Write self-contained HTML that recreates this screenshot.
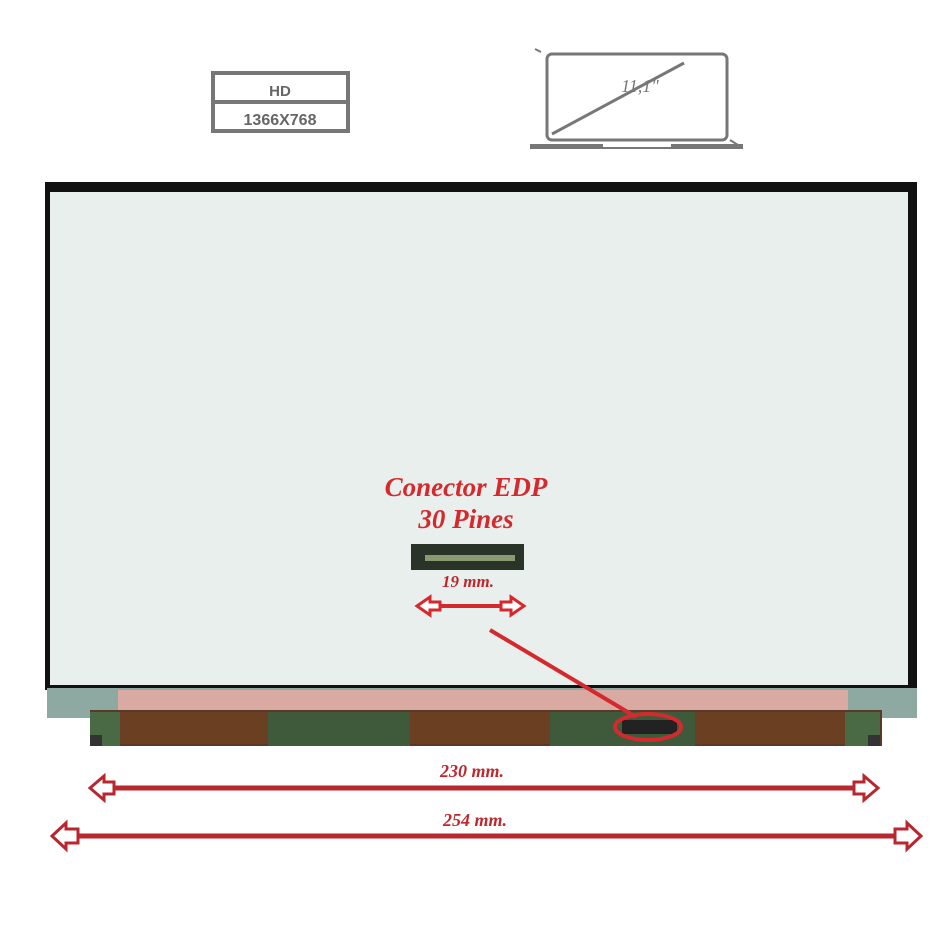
<!DOCTYPE html>
<html><head><style>body{margin:0;background:#fff}svg{display:block}</style></head><body>
<svg width="950" height="950" viewBox="0 0 950 950" xmlns="http://www.w3.org/2000/svg">
<rect width="950" height="950" fill="#fff"/>
<!-- HD box -->
<rect x="213" y="73" width="135" height="58" fill="#fff" stroke="#777" stroke-width="4"/>
<line x1="213" y1="102" x2="348" y2="102" stroke="#777" stroke-width="4"/>
<text x="280" y="96" font-family="Liberation Sans, sans-serif" font-weight="bold" font-size="15" fill="#666" text-anchor="middle">HD</text>
<text x="280" y="125" font-family="Liberation Sans, sans-serif" font-weight="bold" font-size="16" fill="#666" text-anchor="middle">1366X768</text>
<!-- laptop -->
<rect x="547" y="54" width="180" height="86" rx="5" fill="#fff" stroke="#777" stroke-width="3"/>
<line x1="552" y1="134" x2="684" y2="63" stroke="#777" stroke-width="3"/>
<text x="640" y="92" font-family="Liberation Serif, serif" font-style="italic" font-size="18" fill="#777" text-anchor="middle">11,1"</text>
<rect x="530" y="144" width="213" height="5" fill="#777"/>
<rect x="603" y="142" width="68" height="5" fill="#fff"/>
<line x1="535" y1="49" x2="541" y2="52" stroke="#777" stroke-width="2"/>
<line x1="730" y1="140" x2="738" y2="145" stroke="#777" stroke-width="2"/>
<!-- panel -->
<rect x="45" y="182" width="872" height="508" fill="#111"/>
<rect x="50" y="192" width="858" height="493" fill="#e9efed"/>
<!-- bottom pcb -->
<rect x="47" y="688" width="870" height="30" fill="#8ea8a2"/>
<rect x="118" y="690" width="730" height="20" fill="#d8aaa2"/>
<rect x="90" y="710" width="792" height="36" fill="#5a3a26"/>
<rect x="120" y="712" width="150" height="32" fill="#6b3f22"/>
<rect x="268" y="712" width="142" height="34" fill="#3f5a3a"/>
<rect x="410" y="712" width="140" height="32" fill="#6b3f22"/>
<rect x="550" y="712" width="145" height="34" fill="#3f5a3a"/>
<rect x="695" y="712" width="150" height="32" fill="#6b3f22"/>
<rect x="845" y="712" width="35" height="34" fill="#4a6a45"/>
<rect x="90" y="712" width="30" height="34" fill="#4a6a45"/>
<rect x="622" y="720" width="55" height="14" fill="#222"/>
<rect x="90" y="735" width="12" height="11" fill="#333"/>
<rect x="868" y="735" width="12" height="11" fill="#333"/>
<!-- connector -->
<text x="466" y="496" font-family="Liberation Serif, serif" font-weight="bold" font-style="italic" font-size="27" fill="#d42a2e" text-anchor="middle">Conector EDP</text>
<text x="466" y="528" font-family="Liberation Serif, serif" font-weight="bold" font-style="italic" font-size="27" fill="#d42a2e" text-anchor="middle">30 Pines</text>
<rect x="411" y="544" width="113" height="26" fill="#2a3328"/>
<rect x="425" y="555" width="90" height="6" fill="#8a9a70"/>
<text x="468" y="587" font-family="Liberation Serif, serif" font-weight="bold" font-style="italic" font-size="17" fill="#c0272d" text-anchor="middle">19 mm.</text>
<g stroke="#d42a2e" fill="#fff" stroke-width="3">
<line x1="432" y1="606" x2="506" y2="606" stroke-width="4"/>
<polygon points="417,606 430,597 430,602 440,602 440,610 430,610 430,615"/>
<polygon points="524,606 511,597 511,602 501,602 501,610 511,610 511,615"/>
</g>
<line x1="490" y1="630" x2="636" y2="717" stroke="#d42a2e" stroke-width="4"/>
<ellipse cx="648" cy="727" rx="33" ry="13" fill="none" stroke="#d42a2e" stroke-width="4"/>
<!-- dims -->
<g stroke="#b8262e" fill="#fff" stroke-width="3">
<line x1="105" y1="788" x2="862" y2="788" stroke-width="5"/>
<polygon points="90,788 104,776 104,782 114,782 114,794 104,794 104,800"/>
<polygon points="878,788 864,776 864,782 854,782 854,794 864,794 864,800"/>
<line x1="68" y1="836" x2="905" y2="836" stroke-width="5"/>
<polygon points="52,836 66,823 66,829 78,829 78,843 66,843 66,849"/>
<polygon points="921,836 907,823 907,829 895,829 895,843 907,843 907,849"/>
</g>
<text x="472" y="777" font-family="Liberation Serif, serif" font-weight="bold" font-style="italic" font-size="18" fill="#c0272d" text-anchor="middle">230 mm.</text>
<text x="475" y="826" font-family="Liberation Serif, serif" font-weight="bold" font-style="italic" font-size="18" fill="#c0272d" text-anchor="middle">254 mm.</text>
</svg>
</body></html>
